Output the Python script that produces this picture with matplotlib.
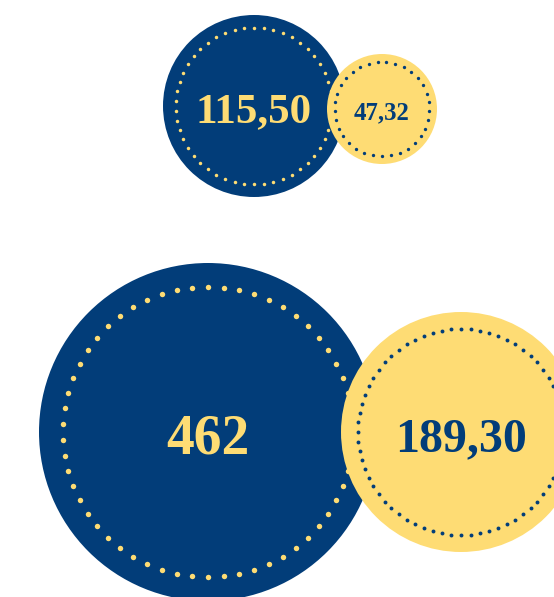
"""
Two pairs of overlapping value bubbles (blue vs. yellow) with dotted inner rings.
"""

import numpy as np
import matplotlib.pyplot as plt
from matplotlib.patches import Circle

# values shown in the bubbles (top pair, bottom pair)
blue_values = [115.50, 462]
yellow_values = [47.32, 189.30]
blue_labels = ["115,50", "462"]
yellow_labels = ["47,32", "189,30"]

BLUE = "#023d79"
YELLOW = "#fedc74"

# layout in pixels (figure is 554 x 597)
blue_centers = [(254, 106), (208, 432)]
yellow_centers = [(382, 109), (461, 432)]
blue_radii = [91, 169]
yellow_radii = [55, 120]
ring_frac = 0.86
blue_dots = [50, 58]
yellow_dots = [33, 68]
blue_dot_size = [2.5, 3.9]
yellow_dot_size = [2.4, 2.8]
blue_font = [31, 40]
yellow_font = [17.8, 34.5]
blue_base = [16, 22]
yellow_base = [10, 19]


def bubble(ax, center, radius, face, dot_color, n_dots, dot_pt, label, fsize, base):
    ax.add_patch(Circle(center, radius, facecolor=face, edgecolor="none"))
    ang = np.linspace(0, 2 * np.pi, n_dots, endpoint=False) + np.pi / 2
    r = radius * ring_frac
    ax.scatter(center[0] + r * np.cos(ang), center[1] + r * np.sin(ang),
               s=dot_pt ** 2, color=dot_color, linewidths=0, zorder=3)
    ax.text(center[0], center[1] + base, label, color=dot_color,
            fontsize=fsize, fontweight="bold", family="Liberation Serif",
            ha="center", va="baseline", zorder=4)


def main():
    fig = plt.figure(figsize=(5.54, 5.97), dpi=100)
    ax = fig.add_axes([0, 0, 1, 1])
    ax.set_xlim(0, 554)
    ax.set_ylim(597, 0)
    ax.set_aspect("equal")
    ax.axis("off")

    for i in range(len(blue_values)):
        bubble(ax, blue_centers[i], blue_radii[i], BLUE, YELLOW, blue_dots[i],
               blue_dot_size[i], blue_labels[i], blue_font[i], blue_base[i])
        bubble(ax, yellow_centers[i], yellow_radii[i], YELLOW, BLUE, yellow_dots[i],
               yellow_dot_size[i], yellow_labels[i], yellow_font[i], yellow_base[i])

    fig.savefig("out.png", dpi=100)


if __name__ == "__main__":
    main()
